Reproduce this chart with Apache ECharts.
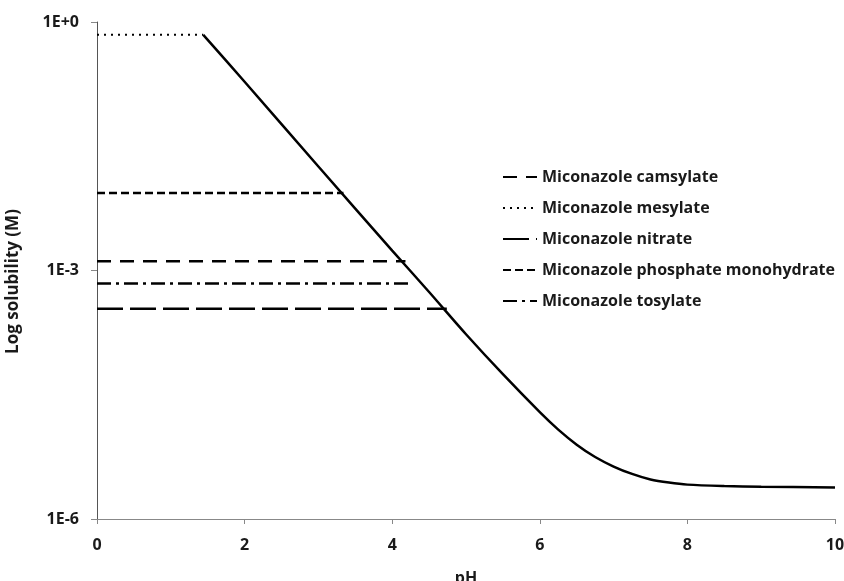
<!DOCTYPE html>
<html lang="en">
<head>
<meta charset="UTF-8">
<title>Miconazole solubility</title>
<script src="https://cdn.jsdelivr.net/npm/echarts@6/dist/echarts.min.js"></script>
<style>
  html, body { margin: 0; padding: 0; background: #fff; }
  #main { width: 844px; height: 581px; }
</style>
</head>
<body>
<div id="main"></div>
<script>
// pH-solubility profile
var curvePH  = [1.44, 2, 3, 4, 4.5, 5, 5.5, 6, 6.25, 6.5, 6.75, 7, 7.25, 7.5, 7.75, 8, 8.5, 9, 10];
var curveSol = [0.70, 0.19, 0.018, 1.74e-3, 5.5e-4, 1.7e-4, 5.6e-5, 1.95e-5, 1.2e-5, 7.9e-6, 5.6e-6, 4.3e-6, 3.5e-6, 3.0e-6, 2.75e-6, 2.6e-6, 2.5e-6, 2.45e-6, 2.4e-6];

// salt plateaus: name, solubility (M), pH where the line stops
var saltNames = ['Miconazole camsylate', 'Miconazole mesylate', 'Miconazole nitrate',
                 'Miconazole phosphate monohydrate', 'Miconazole tosylate'];
var saltSol   = [1.29e-3, 0.70, 3.46e-4, 8.65e-3, 6.97e-4];
var saltEndPH = [4.18, 1.44, 4.74, 3.34, 4.27];

var xTicks = [0, 2, 4, 6, 8, 10];
var yTickLabels = {'-6': '1E-6', '-3': '1E-3', '0': '1E+0'};

// dash pattern for each salt line
var dashes = [[14, 9], [2, 5], [26, 7], [8, 4], [14, 5, 3, 5]];
var widths = [2.5, 2, 2.5, 2.5, 2.5];

var chart = echarts.init(document.getElementById('main'));
var font = '"Open Sans", Lato, sans-serif';
var txt = { fontFamily: font, fontWeight: 'bold', color: '#1a1a1a' };

var series = [{
    name: 'curve',
    type: 'line',
    symbol: 'none',
    smooth: 0.3,
    data: curvePH.map(function (x, i) { return [x, curveSol[i]]; }),
    lineStyle: { color: '#000', width: 2.5 },
    z: 3
}];
saltNames.forEach(function (n, i) {
    series.push({
        name: n,
        type: 'line',
        symbol: 'none',
        data: [[0, saltSol[i]], [saltEndPH[i], saltSol[i]]],
        lineStyle: { color: '#000', width: widths[i], type: dashes[i], cap: 'butt' },
        itemStyle: { color: '#000' }
    });
});

chart.setOption({
    animation: false,
    backgroundColor: '#fff',
    grid: { left: 97, right: 9, top: 22, bottom: 62, outerBoundsMode: 'none', containLabel: false },
    legend: {
        data: saltNames,
        orient: 'vertical',
        left: 497,
        top: 164,
        itemWidth: 34,
        itemHeight: 14,
        itemGap: 15,
        itemStyle: { opacity: 0 },
        textStyle: Object.assign({ fontSize: 16 }, txt)
    },
    xAxis: {
        type: 'value',
        min: 0, max: 10, interval: 2,
        name: 'pH',
        nameLocation: 'middle',
        nameGap: 51,
        nameTextStyle: Object.assign({ fontSize: 16 }, txt),
        splitLine: { show: false },
        axisLine: { lineStyle: { color: '#888', width: 1 } },
        axisTick: { show: true, length: 5, lineStyle: { color: '#888' } },
        axisLabel: Object.assign({
            margin: 18,
            fontSize: 16,
            formatter: function (v) { return xTicks.indexOf(v) >= 0 ? String(v) : ''; }
        }, txt)
    },
    yAxis: {
        type: 'log',
        logBase: 1000,
        min: 1e-6, max: 1,
        name: 'Log solubility (M)',
        nameLocation: 'middle',
        nameGap: 75,
        nameTextStyle: Object.assign({ fontSize: 17, padding: [0, 22, 0, 0] }, txt),
        splitLine: { show: false },
        axisLine: { show: true, lineStyle: { color: '#555', width: 1 } },
        axisTick: { show: true, length: 6, lineStyle: { color: '#888' } },
        axisLabel: Object.assign({
            margin: 18,
            fontSize: 16,
            formatter: function (v) {
                var e = Math.round(Math.log(v) / Math.LN10);
                return yTickLabels[String(e)] || '';
            }
        }, txt)
    },
    series: series
});
</script>
</body>
</html>
